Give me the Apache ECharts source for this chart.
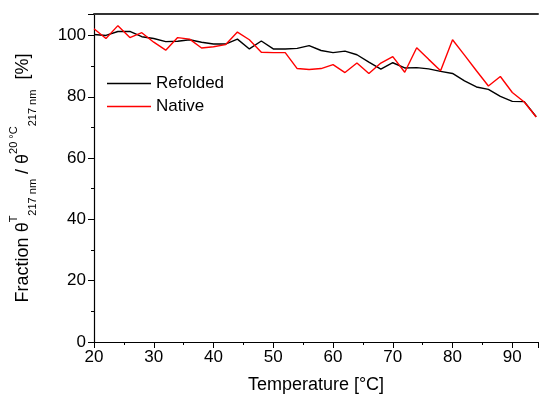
<!DOCTYPE html>
<html>
<head>
<meta charset="utf-8">
<script src="https://cdn.jsdelivr.net/npm/echarts@6/dist/echarts.min.js"></script>
<style>html,body{margin:0;padding:0;background:#fff}#c{width:539px;height:399px}</style>
</head>
<body>
<div id="c"></div>
<script>
const temperatures = [20,22,24,26,28,30,32,34,36,38,40,42,44,46,48,50,52,54,56,58,60,62,64,66,68,70,72,74,76,78,80,82,84,86,88,90,92,94];
const refolded = [100.3,100,101.3,101.3,99.6,99,98,98.1,98.6,97.8,97.2,97.2,98.8,95.6,98.2,95.6,95.6,95.8,96.7,95.1,94.4,94.9,93.7,91.3,89,91.1,89.4,89.5,89.1,88.3,87.6,85.2,83.2,82.4,80.1,78.5,78.4,73.5];
const native = [102.2,99,103.2,99.3,100.9,97.8,95.2,99.3,98.8,95.9,96.3,97,101.1,98.6,94.5,94.4,94.4,89.2,88.9,89.2,90.5,87.9,91,87.6,91,93.1,88,96,92.2,88.5,98.6,93.6,88.5,83.5,86.6,81.4,78.3,73.4];
const seriesNames = ['Refolded', 'Native'];
const xTitle = 'Temperature [°C]';

const chart = echarts.init(document.getElementById('c'));
const font = '"Liberation Sans", Arial, sans-serif';
const pair = a => temperatures.map((t, i) => [t, a[i]]);
chart.setOption({
  animation: false,
  textStyle: { fontFamily: font },
  grid: { left: 91, right: 1, top: 14, bottom: 56 },
  legend: {
    left: 102, top: 70, orient: 'vertical', itemGap: 6,
    icon: 'rect', itemWidth: 44, itemHeight: 1.5,
    textStyle: { fontSize: 17, color: '#000', fontFamily: font, padding: [0, 0, 0, 0] },
    data: seriesNames
  },
  xAxis: [{
    type: 'value', min: 20, max: 94.3, interval: 10,
    name: xTitle, nameLocation: 'middle', nameGap: 34,
    nameTextStyle: { fontSize: 18, color: '#000', fontFamily: font },
    axisLine: { lineStyle: { color: '#000', width: 1.2 } },
    axisTick: { inside: false, length: 6, lineStyle: { color: '#000' } },
    minorTick: { show: true, splitNumber: 2, length: 3, lineStyle: { color: '#000' } },
    axisLabel: { fontSize: 17, color: '#000', margin: 7, showMaxLabel: false, fontFamily: font },
    splitLine: { show: false }
  }, {
    type: 'value', position: 'top', min: 20, max: 94.3,
    axisLine: { show: true, lineStyle: { color: '#333', width: 2 } },
    axisTick: { show: false }, axisLabel: { show: false }, splitLine: { show: false }
  }],
  yAxis: {
    type: 'value', min: 0, max: 107, interval: 20,
    name: '{n|Fraction θ}{sup|T}{sub|217 nm}{n| / θ}{sup|20 °C}{sub|217 nm}{n|  [%]}',
    nameLocation: 'middle', nameGap: 56,
    nameTextStyle: {
      color: '#000', fontFamily: font,
      rich: {
        n: { fontSize: 18, color: '#000', fontFamily: font, lineHeight: 30 },
        sup: { fontSize: 11, color: '#000', fontFamily: font, verticalAlign: 'top', lineHeight: 30 },
        sub: { fontSize: 11, color: '#000', fontFamily: font, verticalAlign: 'bottom', lineHeight: 30 }
      }
    },
    axisLine: { show: true, lineStyle: { color: '#000', width: 1.2 } },
    axisTick: { inside: false, length: 6, lineStyle: { color: '#000' } },
    minorTick: { show: true, splitNumber: 2, length: 3, lineStyle: { color: '#000' } },
    axisLabel: { fontSize: 17, color: '#000', margin: 8, showMaxLabel: false, fontFamily: font },
    splitLine: { show: false }
  },
  series: [
    { name: seriesNames[0], type: 'line', data: pair(refolded), showSymbol: false, symbol: 'none',
      lineStyle: { color: '#000', width: 1.4 }, itemStyle: { color: '#000' } },
    { name: seriesNames[1], type: 'line', data: pair(native), showSymbol: false, symbol: 'none',
      lineStyle: { color: '#ff0000', width: 1.4 }, itemStyle: { color: '#ff0000' } }
  ]
});
</script>
</body>
</html>
